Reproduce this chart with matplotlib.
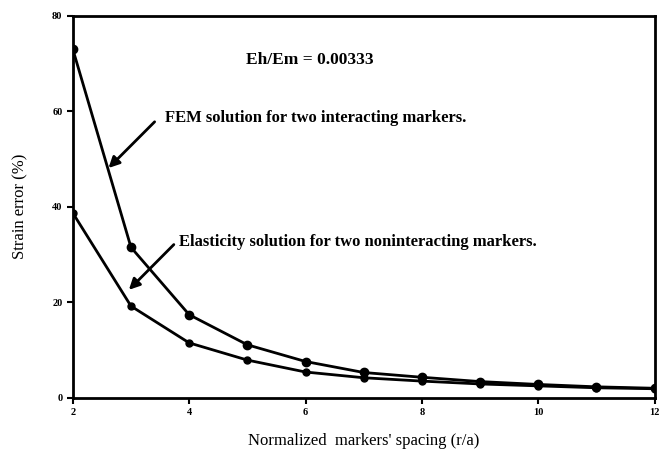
import numpy as np
import matplotlib.pyplot as plt

# values
spacing = [2, 3, 4, 5, 6, 7, 8, 9, 10, 11, 12]
fem_err = [73, 31.5, 17.4, 11.1, 7.6, 5.3, 4.3, 3.4, 2.8, 2.3, 2.0]
elast_err = [38.7, 19.2, 11.5, 7.9, 5.4, 4.2, 3.5, 2.9, 2.5, 2.1, 1.9]
xticks = [2, 4, 6, 8, 10, 12]
yticks = [0, 20, 40, 60, 80]

serif = 'Liberation Serif'

fig = plt.figure(figsize=(6.68, 4.49), dpi=100)
ax = fig.add_axes([0.109, 0.114, 0.871, 0.851])

ax.plot(spacing, fem_err, color='black', lw=2, marker='o', ms=6)
ax.plot(spacing, elast_err, color='black', lw=2, marker='o', ms=5)

ax.set_xlim(2, 12)
ax.set_ylim(0, 80)
ax.set_xticks(xticks)
ax.set_yticks(yticks)
ax.tick_params(direction='out', length=4, width=1.5, labelsize=7.5)
for lab in ax.get_xticklabels() + ax.get_yticklabels():
    lab.set_fontweight('bold')
    lab.set_family(serif)
for s in ax.spines.values():
    s.set_linewidth(2)

ax.set_xlabel("Normalized  markers' spacing (r/a)", family=serif, fontsize=12, labelpad=11)
ax.set_ylabel('Strain error (%)', family=serif, fontsize=12, labelpad=17)

ax.text(6.07, 70.8, 'Eh/Em = 0.00333', family=serif, fontsize=12.5,
        fontweight='bold', ha='center', va='center')

ax.text(3.58, 58.6, 'FEM solution for two interacting markers.', family=serif,
        fontsize=12, fontweight='bold', ha='left', va='center')
ax.annotate('', xy=(2.58, 47.7), xytext=(3.44, 58.2),
            arrowprops=dict(arrowstyle='-|>', lw=2, color='black', mutation_scale=16))

ax.text(3.82, 32.7, 'Elasticity solution for two noninteracting markers.', family=serif,
        fontsize=12, fontweight='bold', ha='left', va='center')
ax.annotate('', xy=(2.93, 22.2), xytext=(3.77, 32.5),
            arrowprops=dict(arrowstyle='-|>', lw=2, color='black', mutation_scale=16))

fig.savefig('out.png', dpi=100)
